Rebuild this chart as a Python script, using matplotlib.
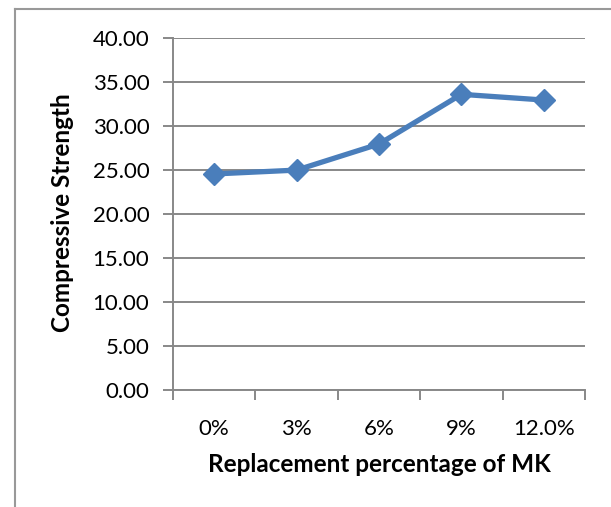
import matplotlib
matplotlib.use("Agg")

import matplotlib.pyplot as plt
from matplotlib.lines import Line2D

# compressive strength for each MK replacement level
categories = ['0%', '3%', '6%', '9%', '12.0%']
strength = [24.56, 25.00, 27.97, 33.63, 32.98]
yticks = [0, 5, 10, 15, 20, 25, 30, 35, 40]

W, H = 611, 507
plt.rcParams['font.family'] = ['Lato', 'DejaVu Sans']

fig = plt.figure(figsize=(W / 100, H / 100), dpi=100)
ax = fig.add_axes([173 / W, 1 - 389.6 / H, (585 - 173) / W, (389.6 - 38.4) / H])

grid_c = '#888888'
blue = '#4A7EBB'

x = list(range(len(categories)))
ax.plot(x, strength, color=blue, lw=3.8, marker='D', ms=11.5,
        markerfacecolor=blue, markeredgecolor=blue, zorder=3, clip_on=False)

ax.set_ylim(0, 40)
ax.set_yticks(yticks)
ax.set_yticklabels(['%.2f' % v for v in yticks], fontsize=16)
ax.yaxis.grid(True, color=grid_c, lw=1.4)
ax.set_axisbelow(True)

ax.set_xlim(-0.5, len(categories) - 0.5)
ax.set_xticks([i - 0.5 for i in range(len(categories) + 1)])
ax.set_xticklabels([])
ax.set_xticks(x, minor=True)
ax.set_xticklabels(categories, minor=True, fontsize=16)
ax.tick_params(axis='x', which='minor', length=0, pad=21)
ax.tick_params(axis='x', which='major', length=7, width=1.4, color=grid_c, direction='out')
ax.tick_params(axis='y', length=7, width=1.4, color=grid_c, pad=10)

for side in ['top', 'right']:
    ax.spines[side].set_visible(False)
for side in ['left', 'bottom']:
    ax.spines[side].set_color(grid_c)
    ax.spines[side].set_linewidth(1.4)

fig.text(379 / W, 1 - 465 / H, 'Replacement percentage of MK', fontsize=17.5,
         fontweight='bold', ha='center', va='center')
fig.text(63 / W, 1 - 213 / H, 'Compressive Strength', fontsize=17.5,
         fontweight='bold', ha='center', va='center', rotation=90)

# chart frame, open at the right and bottom edges
fig.add_artist(Line2D([15 / W, 1], [1 - 9 / H, 1 - 9 / H], color='#999999', lw=1.5))
fig.add_artist(Line2D([14.5 / W, 14.5 / W], [0, 1 - 9 / H], color='#999999', lw=1.5))

fig.savefig('out.png', dpi=100)
